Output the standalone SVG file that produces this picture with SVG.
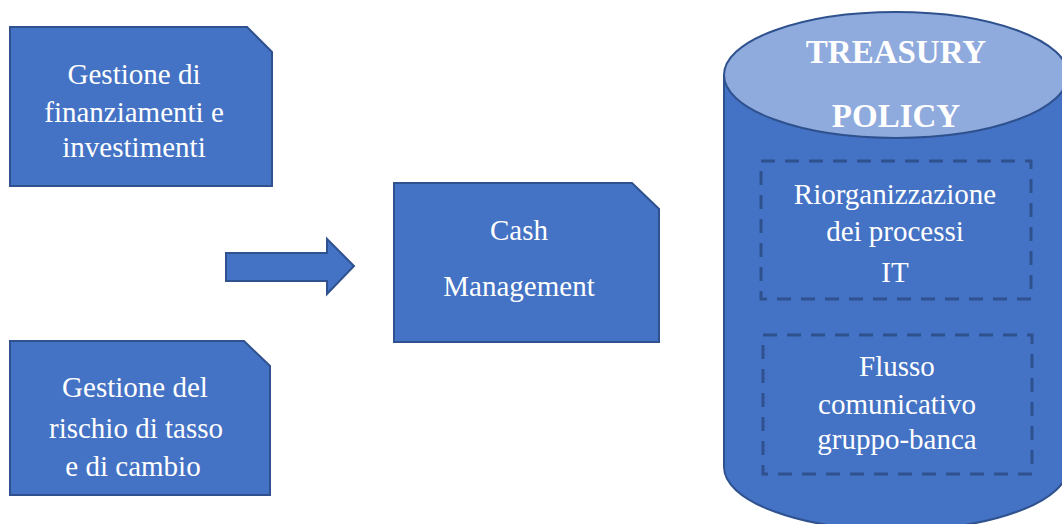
<svg xmlns="http://www.w3.org/2000/svg" width="1062" height="524" viewBox="0 0 1062 524">
  <style>
    .shape { fill: #4472C4; stroke: #2F528F; stroke-width: 2; }
    .cap { fill: #8FAADC; stroke: #2F528F; stroke-width: 2; }
    .dash { fill: none; stroke: #2F528F; stroke-width: 3; stroke-dasharray: 14 10; }
    .lbl { font-family: "Liberation Serif", "Times New Roman", serif; font-size: 29px; fill: #FFFFFF; text-anchor: middle; }
    .title { font-family: "Liberation Serif", "Times New Roman", serif; font-size: 33px; font-weight: bold; fill: #FFFFFF; text-anchor: middle; }
  </style>
  <rect width="1062" height="524" fill="#FFFFFF"/>

  <!-- Box: funding and investments -->
  <g id="node-finanziamenti">
    <path class="shape" d="M10,27 L247,27 L272,52 L272,186 L10,186 Z"/>
    <text class="lbl" x="134" y="84">Gestione di</text>
    <text class="lbl" x="134" y="122">finanziamenti e</text>
    <text class="lbl" x="134" y="157">investimenti</text>
  </g>

  <!-- Box: interest and exchange rate risk -->
  <g id="node-rischio">
    <path class="shape" d="M10,341 L244,341 L270,366 L270,495 L10,495 Z"/>
    <text class="lbl" x="135" y="397">Gestione del</text>
    <text class="lbl" x="136" y="438">rischio di tasso</text>
    <text class="lbl" x="133" y="476">e di cambio</text>
  </g>

  <!-- Box: cash management -->
  <g id="node-cash">
    <path class="shape" d="M394,183 L632,183 L659,209 L659,342 L394,342 Z"/>
    <text class="lbl" x="519" y="240">Cash</text>
    <text class="lbl" x="519" y="296">Management</text>
  </g>

  <!-- Treasury policy cylinder -->
  <g id="node-treasury">
    <path class="shape" d="M724,75 L724,467 A172,63 0 0 0 1068,467 L1068,75 Z"/>
    <ellipse class="cap" cx="896" cy="75" rx="172" ry="63"/>
    <text class="title" x="896" y="63">TREASURY</text>
    <text class="title" x="896" y="127">POLICY</text>
  </g>

  <g id="node-riorganizzazione">
    <rect class="dash" x="761" y="161" width="270" height="138"/>
    <text class="lbl" x="895" y="204">Riorganizzazione</text>
    <text class="lbl" x="895" y="241">dei processi</text>
    <text class="lbl" x="895" y="282">IT</text>
  </g>

  <g id="node-flusso">
    <rect class="dash" x="763" y="335" width="269" height="139"/>
    <text class="lbl" x="897" y="376">Flusso</text>
    <text class="lbl" x="897" y="414">comunicativo</text>
    <text class="lbl" x="897" y="449">gruppo-banca</text>
  </g>

  <!-- Connectors -->
  <g id="connectors">
    <path class="shape" d="M226,253 L327,253 L327,239 L354,266 L327,294 L327,281 L226,281 Z"/>
  </g>
</svg>
